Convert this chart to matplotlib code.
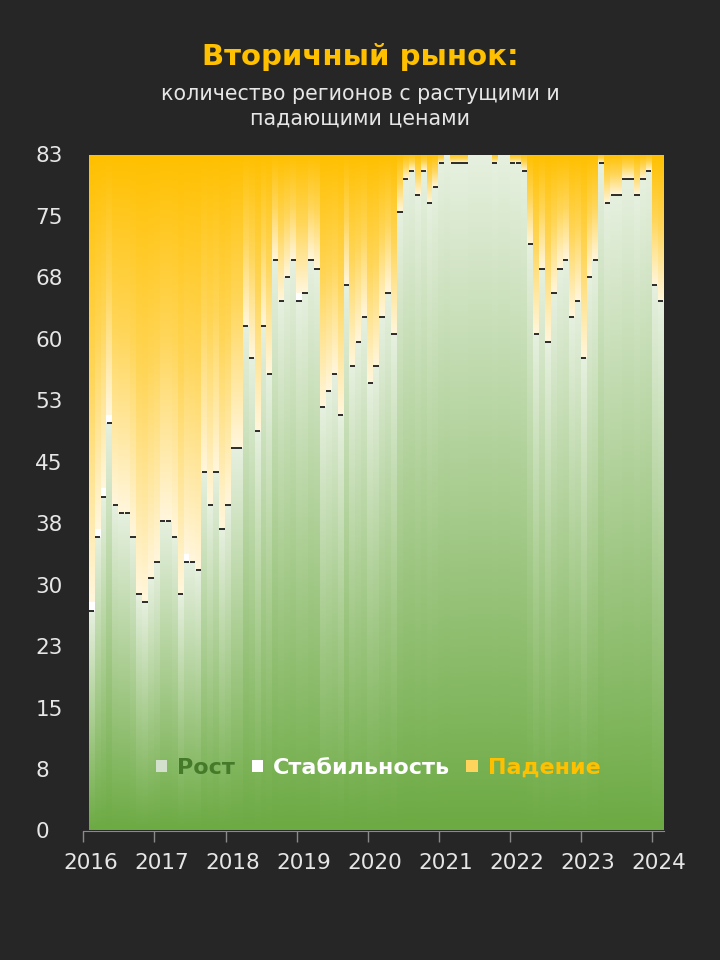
import numpy as np
import matplotlib
matplotlib.use("Agg")
import matplotlib.pyplot as plt
import matplotlib.transforms as mtransforms
from matplotlib.colors import LinearSegmentedColormap
from matplotlib.patches import Patch

# nombre de regions par mois, janvier 2016 -> janvier 2024
total = 83
rost = [27, 36, 41, 50, 40, 39, 39, 36, 29, 28, 31, 33, 38, 38, 36, 29, 33,
        33, 32, 44, 40, 44, 37, 40, 47, 47, 62, 58, 49, 62, 56, 70, 65, 68,
        70, 65, 66, 70, 69, 52, 54, 56, 51, 67, 57, 60, 63, 55, 57, 63, 66,
        61, 76, 80, 81, 78, 81, 77, 79, 82, 83, 82, 82, 82, 83, 83, 83, 83,
        82, 83, 83, 82, 82, 81, 72, 61, 69, 60, 66, 69, 70, 63, 65, 58,
        68, 70, 82, 77, 78, 78, 80, 80, 78, 80, 81, 67, 65]
stab = [1, 1, 1, 1, 0, 0, 0, 0, 0, 0, 0, 0, 0, 0, 0, 0, 1,
        0, 0, 0, 0, 0, 0, 0, 0, 0, 0, 0, 0, 0, 0, 0, 0, 0,
        0, 1, 0, 0, 0, 0, 0, 0, 0, 0, 0, 0, 0, 0, 0, 0, 0,
        0, 0, 0, 0, 0, 0, 0, 0, 0, 0, 0, 0, 0, 0, 0, 0, 0,
        0, 0, 0, 0, 0, 0, 0, 0, 0, 0, 0, 0, 0, 0, 0, 0,
        0, 0, 0, 0, 0, 0, 0, 0, 0, 0, 0, 0, 0]
padenie = [total - r - s for r, s in zip(rost, stab)]
annees = list(range(2016, 2025))
graduations = ["0", "8", "15", "23", "30", "38", "45", "53", "60", "68", "75", "83"]

fond = "#262626"
vert = LinearSegmentedColormap.from_list("vert", ["#6CAA43", "#A9CD90", "#E6F0DF"])
jaune = LinearSegmentedColormap.from_list("jaune", ["#FFF6DC", "#FFD65A", "#FFC000"])
degrade = np.linspace(0, 1, 256).reshape(-1, 1)

fig = plt.figure(figsize=(7.2, 9.6), dpi=100, facecolor=fond)
ax = fig.add_axes([83.3 / 720, 129.5 / 960, 580.3 / 720, 676 / 960])
ax.set_facecolor(fond)

for i in range(len(rost)):
    r, s, p = rost[i], stab[i], padenie[i]
    ax.imshow(degrade, extent=[i, i + 1, 0, r], origin="lower", aspect="auto",
              cmap=vert, interpolation="bilinear", zorder=2)
    if s > 0:
        ax.bar(i, s, width=1, bottom=r, align="edge", color="white", zorder=2)
    if p > 0:
        ax.imshow(degrade, extent=[i, i + 1, r + s, total], origin="lower", aspect="auto",
                  cmap=jaune, interpolation="bilinear", zorder=2)
    if r < total:
        ax.plot([i + 0.05, i + 0.95], [r, r], color="#1c1c1c", lw=1.3, zorder=3,
                solid_capstyle="butt")

ax.set_xlim(-0.91, len(rost))
ax.set_ylim(0, total)
ax.set_xticks([12 * (a - 2016) - 0.91 for a in annees])
ax.set_xticklabels([str(a) for a in annees])
ax.set_yticks(np.linspace(0, total, len(graduations)))
ax.set_yticklabels(graduations)
ax.tick_params(axis="x", colors="#8a8a8a", length=8, width=1, pad=8, labelsize=15.5,
               labelcolor="#e6e6e6")
ax.tick_params(axis="y", length=0, pad=34.5, labelsize=15.5, labelcolor="#e6e6e6")
for lab in ax.get_yticklabels():
    lab.set_horizontalalignment("left")
decalage = mtransforms.ScaledTranslation(7 / 100, 0, fig.dpi_scale_trans)
for lab in ax.get_xticklabels():
    lab.set_transform(lab.get_transform() + decalage)
for c in ["top", "right", "left"]:
    ax.spines[c].set_visible(False)
ax.spines["bottom"].set_color("#8a8a8a")
ax.spines["bottom"].set_zorder(4)

poignees = [Patch(facecolor="#D3E0CB"), Patch(facecolor="white"), Patch(facecolor="#FFD45C")]
leg = ax.legend(poignees, ["Рост", "Стабильность", "Падение"], loc="center",
                bbox_to_anchor=(0.508, 0.0925), ncol=3, frameon=False,
                handlelength=0.5, handleheight=0.5, handletextpad=0.45,
                columnspacing=0.75, prop={"weight": "bold", "size": 16})
for t, c in zip(leg.get_texts(), ["#457A2A", "white", "#FFC000"]):
    t.set_color(c)
leg.set_zorder(10)

fig.text(0.5, 1 - 57 / 960, "Вторичный рынок:", ha="center", va="center",
         fontsize=21, weight="bold", color="#FFC000")
fig.text(0.5, 1 - 106 / 960, "количество регионов с растущими и\nпадающими ценами",
         ha="center", va="center", fontsize=14.8, color="#e6e6e6", linespacing=1.3)

fig.savefig("out.png", dpi=100, facecolor=fond)
